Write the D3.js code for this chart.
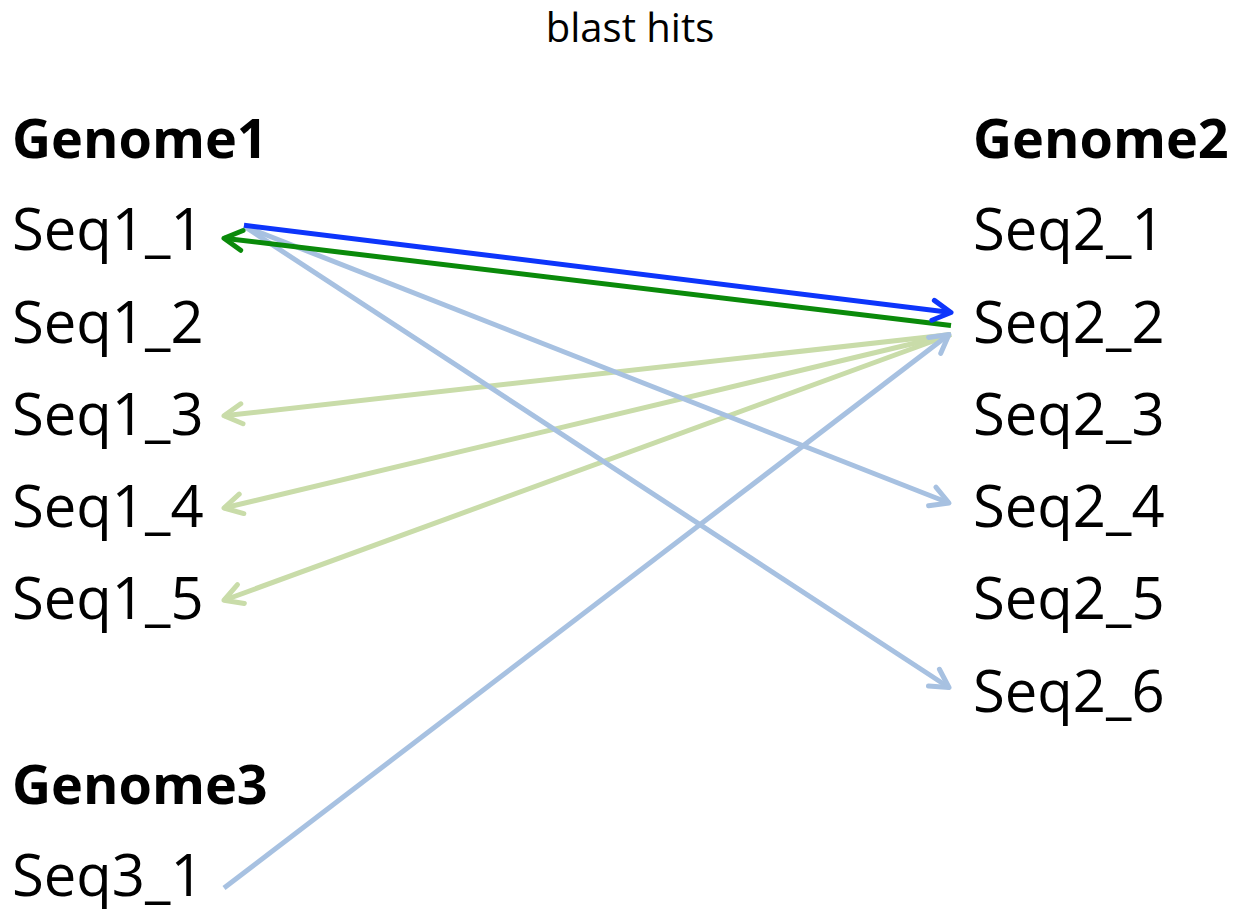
<!DOCTYPE html>
<html>
<head>
<meta charset="utf-8">
<script src="https://cdn.jsdelivr.net/npm/d3@7"></script>
<style>
  html, body { margin: 0; padding: 0; background: #fff; }
  text { font-family: "Open Sans", "DejaVu Sans", sans-serif; fill: #000; }
</style>
</head>
<body>
<div id="graph"></div>
<script>
// chart data
const title = "blast hits";
const leftGenomes = [
  { name: "Genome1", row: 0, seqs: ["Seq1_1", "Seq1_2", "Seq1_3", "Seq1_4", "Seq1_5"] },
  { name: "Genome3", row: 7, seqs: ["Seq3_1"] }
];
const rightGenomes = [
  { name: "Genome2", row: 0, seqs: ["Seq2_1", "Seq2_2", "Seq2_3", "Seq2_4", "Seq2_5", "Seq2_6"] }
];
// kind: best = best hit, reciprocal = reciprocal best hit, hit / hitBack = other hits
const hits = [
  { source: "Seq2_2", target: "Seq1_3", kind: "hitBack" },
  { source: "Seq2_2", target: "Seq1_4", kind: "hitBack" },
  { source: "Seq2_2", target: "Seq1_5", kind: "hitBack" },
  { source: "Seq1_1", target: "Seq2_4", kind: "hit" },
  { source: "Seq1_1", target: "Seq2_6", kind: "hit" },
  { source: "Seq3_1", target: "Seq2_2", kind: "hit" },
  { source: "Seq2_2", target: "Seq1_1", kind: "reciprocal" },
  { source: "Seq1_1", target: "Seq2_2", kind: "best" }
];

const width = 1235, height = 909;
const colors = { best: "#0d35fb", reciprocal: "#0a8a0a", hit: "#a7c1e1", hitBack: "#c9dca9" };
const strokeW = 5;

const svg = d3.select("#graph")
  .append("svg")
  .attr("width", width)
  .attr("height", height);

const y = d3.scaleLinear().domain([0, 8]).range([142, 880]);
const x = d3.scalePoint().domain(["left", "right"]).range([12, 973]);
const lineEnd = { left: 224, right: 951 };

// position lookup for every sequence
const nodes = {};
function place(genomes, side) {
  genomes.forEach(g => {
    g.seqs.forEach((s, i) => { nodes[s] = { side, y: y(g.row + 1 + i) }; });
  });
}
place(leftGenomes, "left");
place(rightGenomes, "right");

svg.append("text")
  .attr("x", 630)
  .attr("y", 42)
  .attr("text-anchor", "middle")
  .style("font-size", "40px")
  .text(title);

function drawLabels(genomes, side) {
  const g = svg.append("g").attr("class", "labels-" + side);
  genomes.forEach(gen => {
    g.append("text")
      .attr("x", x(side))
      .attr("y", y(gen.row) + 16)
      .style("font-size", "54px")
      .style("font-weight", "bold")
      .text(gen.name);
    g.selectAll(null).data(gen.seqs).enter()
      .append("text")
      .attr("x", x(side))
      .attr("y", (d, i) => y(gen.row + 1 + i) + 16)
      .style("font-size", "58px")
      .text(d => d);
  });
}
drawLabels(leftGenomes, "left");
drawLabels(rightGenomes, "right");

const defs = svg.append("defs");
defs.selectAll("marker").data(Object.keys(colors)).enter()
  .append("marker")
  .attr("id", d => "arrow-" + d)
  .attr("viewBox", "-24 -15 28 30")
  .attr("refX", 0)
  .attr("refY", 0)
  .attr("markerWidth", 28)
  .attr("markerHeight", 30)
  .attr("markerUnits", "userSpaceOnUse")
  .attr("orient", "auto")
  .append("path")
  .attr("d", "M-18,-10L0,0L-18,10")
  .attr("fill", "none")
  .attr("stroke", d => colors[d])
  .attr("stroke-width", strokeW)
  .attr("stroke-linecap", "round")
  .attr("stroke-linejoin", "round");

// small vertical nudges so the arrows sharing a sequence don't sit on top of each other
function ends(d) {
  const s = nodes[d.source], t = nodes[d.target];
  const dir = Math.sign(t.y - s.y);
  let sy = s.y, ty = t.y;
  if (d.kind === "best") { sy -= 9; ty -= 14; }
  else if (d.kind === "reciprocal") { sy -= 1; ty += 4; }
  else if (d.kind === "hitBack") { sy += 8; ty -= 3; }
  else { sy -= 8 * dir; ty -= 8 * dir; }
  let sx = lineEnd[s.side];
  if (s.side === "left" && dir > 0) sx += 20;
  return [[sx, sy], [lineEnd[t.side] - (d.kind === "hit" && t.side === "right" ? 2 : 0), ty]];
}

const line = d3.line();
svg.append("g").attr("class", "edges")
  .selectAll("path").data(hits).enter()
  .append("path")
  .attr("d", d => line(ends(d)))
  .attr("fill", "none")
  .attr("stroke", d => colors[d.kind])
  .attr("stroke-width", strokeW)
  .attr("marker-end", d => "url(#arrow-" + d.kind + ")");
</script>
</body>
</html>
